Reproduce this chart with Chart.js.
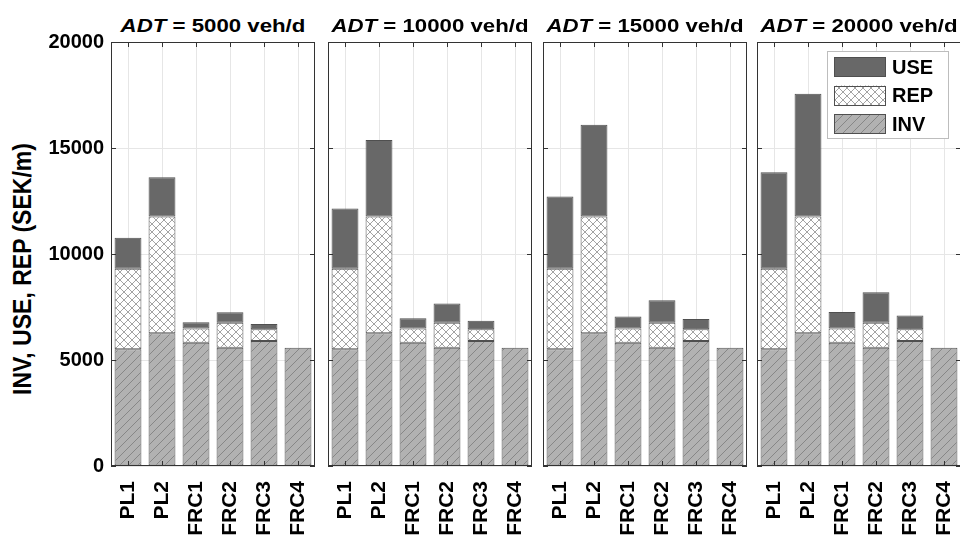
<!DOCTYPE html>
<html>
<head>
<meta charset="utf-8">
<script src="https://cdn.jsdelivr.net/npm/chart.js@4"></script>
<style>
html, body { margin:0; padding:0; overflow:hidden; }
body { width:960px; height:536px; position:relative; background:#fff; font-family:'Liberation Sans', Arial, sans-serif; }
canvas { position:absolute; top:0; }
.ttl { position:absolute; top:16px; width:204px; text-align:center; font-weight:bold; font-size:19px; line-height:19px; white-space:nowrap; transform:scaleX(1.17); color:#000; }
#ytitle { position:absolute; left:23px; top:269px; font-weight:bold; font-size:23px; white-space:nowrap; transform:translate(-50%,-50%) rotate(-90deg) scaleY(1.12); color:#000; }
</style>
</head>
<body>
<div id="ytitle">INV, USE, REP (SEK/m)</div>
<script>
const categories = ['PL1', 'PL2', 'FRC1', 'FRC2', 'FRC3', 'FRC4'];
const adtLevels = [5000, 10000, 15000, 20000];
const invValues = [5510, 6260, 5810, 5580, 5900, 5580];
const repValues = [3800, 5510, 680, 1180, 550, null];
const use5000 = [1460, 1850, 290, 490, 250, null];
const use10000 = [2840, 3610, 480, 900, 400, null];
const use15000 = [3400, 4330, 560, 1060, 480, null];
const use20000 = [4550, 5790, 770, 1440, 650, null];
const useSeries = [use5000, use10000, use15000, use20000];

const panelLeft = [111, 328, 543, 757];
const panelWidth = 204;
const fontFamily = "'Liberation Sans', Arial, sans-serif";

function hatch(size, bg, line, cross) {
  const c = document.createElement('canvas');
  c.width = c.height = size;
  const g = c.getContext('2d');
  g.fillStyle = bg;
  g.fillRect(0, 0, size, size);
  g.strokeStyle = line;
  g.lineWidth = 0.8;
  g.beginPath();
  g.moveTo(0, size); g.lineTo(size, 0);
  g.moveTo(-1, 1); g.lineTo(1, -1);
  g.moveTo(size - 1, size + 1); g.lineTo(size + 1, size - 1);
  if (cross) {
    g.moveTo(0, 0); g.lineTo(size, size);
    g.moveTo(-1, size - 1); g.lineTo(1, size + 1);
    g.moveTo(size - 1, -1); g.lineTo(size + 1, 1);
  }
  g.stroke();
  return g.createPattern(c, 'repeat');
}

const invFill = hatch(9, '#b2b2b2', '#7c7c7c', false);
const repFill = hatch(8, '#ffffff', '#8c8c8c', true);
const useFill = '#686868';
const edge = '#4f4f4f';

// frame round the plot area with inward tick marks
const framePlugin = {
  id: 'frame',
  afterDraw(chart) {
    const { ctx, chartArea: a, scales } = chart;
    ctx.save();
    ctx.strokeStyle = '#333';
    ctx.lineWidth = 1;
    ctx.strokeRect(a.left + 0.5, a.top + 0.5, a.right - a.left - 1, a.bottom - a.top - 1);
    ctx.beginPath();
    scales.x.ticks.forEach((t, k) => {
      const x = Math.round(scales.x.getPixelForTick(k)) + 0.5;
      ctx.moveTo(x, a.top); ctx.lineTo(x, a.top + 5);
      ctx.moveTo(x, a.bottom); ctx.lineTo(x, a.bottom - 5);
    });
    scales.y.ticks.forEach(t => {
      const y = Math.round(scales.y.getPixelForValue(t.value)) + 0.5;
      ctx.moveTo(a.left, y); ctx.lineTo(a.left + 5, y);
      ctx.moveTo(a.right, y); ctx.lineTo(a.right - 5, y);
    });
    ctx.stroke();
    ctx.restore();
  }
};

// legend box in the top right of the last panel
const legendPlugin = {
  id: 'boxLegend',
  afterDraw(chart) {
    const { ctx, chartArea: a } = chart;
    const left = a.right - 134, top = a.top + 9;
    ctx.save();
    ctx.fillStyle = '#fff';
    ctx.fillRect(left, top, 122, 88);
    ctx.strokeStyle = '#bdbdbd';
    ctx.lineWidth = 1;
    ctx.strokeRect(left + 0.5, top + 0.5, 121, 87);
    const sets = chart.data.datasets.slice().reverse();
    sets.forEach((ds, k) => {
      const y = top + 6 + k * 28.5;
      ctx.fillStyle = ds.backgroundColor;
      ctx.fillRect(left + 7, y, 52, 20);
      ctx.strokeStyle = edge;
      ctx.strokeRect(left + 7.5, Math.round(y) + 0.5, 51, 19);
      ctx.fillStyle = '#000';
      ctx.font = 'bold 20px ' + fontFamily;
      ctx.textBaseline = 'middle';
      ctx.fillText(ds.label, left + 65, y + 11);
    });
    ctx.restore();
  }
};

function makePanel(i) {
  const first = i === 0;
  const pad = 6;
  const cLeft = first ? 0 : panelLeft[i] - pad;
  const cWidth = panelLeft[i] + panelWidth + pad - cLeft;

  const title = document.createElement('div');
  title.className = 'ttl';
  title.style.left = panelLeft[i] + 'px';
  title.innerHTML = '<i>ADT</i> = ' + adtLevels[i] + ' veh/d';
  document.body.appendChild(title);

  const canvas = document.createElement('canvas');
  canvas.width = cWidth;
  canvas.height = 536;
  canvas.style.left = cLeft + 'px';
  canvas.style.width = cWidth + 'px';
  canvas.style.height = '536px';
  document.body.appendChild(canvas);

  const bar = { borderColor: edge, borderWidth: 1, borderSkipped: false, barPercentage: 0.79, categoryPercentage: 1.0 };

  new Chart(canvas, {
    type: 'bar',
    data: {
      labels: categories,
      datasets: [
        Object.assign({ label: 'INV', data: invValues, backgroundColor: invFill }, bar),
        Object.assign({ label: 'REP', data: repValues, backgroundColor: repFill }, bar),
        Object.assign({ label: 'USE', data: useSeries[i], backgroundColor: useFill }, bar)
      ]
    },
    options: {
      responsive: false,
      animation: false,
      devicePixelRatio: 1,
      layout: { padding: { left: first ? 0 : pad, right: pad, top: 42, bottom: 0 } },
      plugins: { legend: { display: false }, tooltip: { enabled: false } },
      scales: {
        x: {
          stacked: true,
          offset: true,
          grid: { offset: false, color: '#e6e6e6', drawTicks: false },
          border: { display: false },
          ticks: { maxRotation: 90, minRotation: 90, padding: 15, color: '#000', font: { size: 21, weight: 'bold', family: fontFamily } },
          afterFit(s) { s.height = 70; s.paddingLeft = 0; s.paddingRight = 0; }
        },
        y: {
          stacked: true,
          min: 0,
          max: 20000,
          grid: { color: '#e6e6e6', drawTicks: false },
          border: { display: false },
          ticks: { display: first, stepSize: 5000, padding: 7, color: '#000', font: { size: 20, weight: 'bold', family: fontFamily }, callback: v => String(v) },
          afterFit(s) { s.width = first ? 111 : 0; }
        }
      }
    },
    plugins: i === 3 ? [framePlugin, legendPlugin] : [framePlugin]
  });
}

for (let i = 0; i < adtLevels.length; i++) makePanel(i);
</script>
</body>
</html>
